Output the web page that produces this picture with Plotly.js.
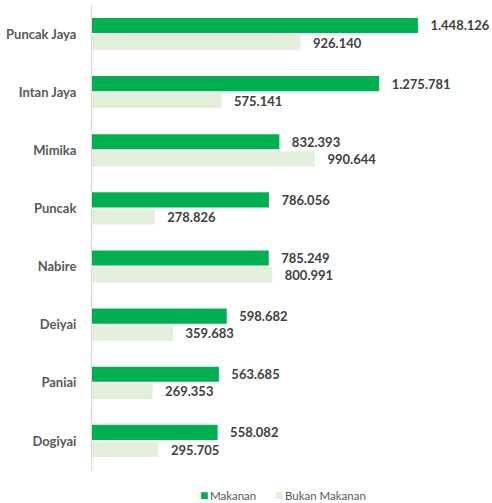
<!DOCTYPE html>
<html>
<head>
<meta charset="utf-8">
<script src="https://cdn.plot.ly/plotly-3.0.1.min.js"></script>
<style>html,body{margin:0;padding:0;background:#fff;}#chart{width:492px;height:503px;}</style>
</head>
<body>
<div id="chart"></div>
<script>
const categories = ["Puncak Jaya", "Intan Jaya", "Mimika", "Puncak", "Nabire", "Deiyai", "Paniai", "Dogiyai"];
const makanan = [1448126, 1275781, 832393, 786056, 785249, 598682, 563685, 558082];
const bukanMakanan = [926140, 575141, 990644, 278826, 800991, 359683, 269353, 295705];
const seriesNames = ["Makanan", "Bukan Makanan"];
const seriesColors = ["#00B050", "#E2EFDA"];

const labelFont = {family: "Lato", size: 13, color: "#404040", weight: "bold"};
const traces = [makanan, bukanMakanan].map((vals, i) => ({
  type: "bar", orientation: "h", name: seriesNames[i],
  y: categories, x: vals,
  marker: {color: seriesColors[i]},
  texttemplate: "\u00a0\u00a0\u00a0%{x:,}", textposition: "outside", cliponaxis: false,
  constraintext: "none",
  textfont: labelFont, hoverinfo: "skip"
}));

const legendAnnotations = [
  {x: 0.266, text: "<span style='color:" + seriesColors[0] + ";font-size:14px'>■</span>\u2009" + seriesNames[0]},
  {x: 0.453, text: "<span style='color:" + seriesColors[1] + ";font-size:14px'>■</span>\u2009" + seriesNames[1]}
].map(a => ({
  xref: "paper", yref: "paper", x: a.x, y: -0.053, xanchor: "left", yanchor: "middle",
  text: a.text, showarrow: false,
  font: {family: "Lato", size: 11.5, color: "#595959"}
}));

const layout = {
  width: 492, height: 503,
  margin: {l: 92, r: 0, t: 5, b: 33, pad: 0},
  paper_bgcolor: "#ffffff", plot_bgcolor: "#ffffff",
  separators: ",.",
  barmode: "group", bargap: 0.41, bargroupgap: 0.12,
  font: {family: "Lato", color: "#595959"},
  xaxis: {range: [0, 1777000], showgrid: false, zeroline: false, showticklabels: false, showline: false, fixedrange: true},
  yaxis: {
    autorange: "reversed", showgrid: false, zeroline: false,
    showline: true, linecolor: "#D9D9D9", linewidth: 1,
    ticks: "outside", ticklen: 12, tickcolor: "rgba(0,0,0,0)",
    tickfont: {family: "Lato", size: 13, color: "#595959", weight: "bold"}
  },
  showlegend: false,
  annotations: legendAnnotations
};

Plotly.newPlot("chart", traces, layout, {staticPlot: true, displayModeBar: false});
</script>
</body>
</html>
